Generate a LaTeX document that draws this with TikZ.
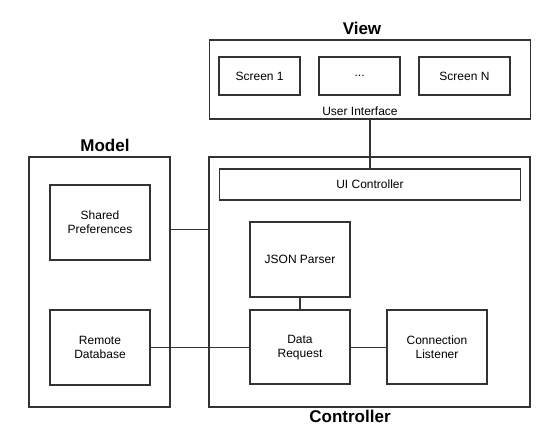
\documentclass[tikz,border=0pt]{standalone}
\usepackage{fontspec}
\setmainfont{Liberation Sans}
\begin{document}
\begin{tikzpicture}[x=1pt,y=-1pt,
  box/.style={draw=black!80,line width=1.8pt,inner sep=0pt,font=\fontsize{12}{14}\selectfont,align=center},
  conn/.style={draw=black!80,line width=1.7pt},
  title/.style={font=\fontsize{17}{20}\bfseries\selectfont}]
\useasboundingbox (0,0) rectangle (550,447);
% containers
\node[box,minimum width=321pt,minimum height=79pt] (view) at (370,79.6) {};
\node[box,minimum width=321pt,minimum height=250pt] (ctrl) at (369.7,281.7) {};
\node[box,minimum width=141pt,minimum height=250pt] (model) at (99.6,281.7) {};
% titles
\node[title] (viewt) at (362,28) {View};
\node[title] (modelt) at (105,145.5) {Model};
\node[title] (ctrlt) at (350,416) {Controller};
% view content
\node[box,minimum width=81pt,minimum height=38pt] (s1) at (259.6,76.2) {Screen 1};
\node[box,minimum width=81pt,minimum height=38pt] (sdots) at (359.6,76.2) {...};
\node[box,minimum width=91pt,minimum height=38pt] (sn) at (464.5,76.2) {Screen N};
\node[font=\fontsize{12}{14}\selectfont] (ui) at (360,111.5) {User Interface};
% controller content
\node[box,minimum width=301pt,minimum height=31pt] (uic) at (370,184.7) {UI Controller};
\node[box,minimum width=100pt,minimum height=75pt] (json) at (300,259.8) {JSON Parser};
\node[box,minimum width=100pt,minimum height=74pt] (dreq) at (300,347.2) {Data\\Request};
\node[box,minimum width=100.6pt,minimum height=74pt] (cl) at (437,347.2) {Connection\\Listener};
% model content
\node[box,minimum width=100pt,minimum height=75pt] (sp) at (100,222.5) {Shared\\Preferences};
\node[box,minimum width=100pt,minimum height=75pt] (rdb) at (100,347.5) {Remote\\Database};
% connectors
\draw[conn] (view.south -| 370,0) -- (uic.north -| 370,0);
\draw[conn] (model.east |- 0,229.5) -- (ctrl.west |- 0,229.5);
\draw[conn] (rdb.east |- 0,347.5) -- (dreq.west |- 0,347.5);
\draw[conn] (json.south) -- (dreq.north);
\draw[conn] (dreq.east |- 0,347.5) -- (cl.west |- 0,347.5);
\end{tikzpicture}
\end{document}
